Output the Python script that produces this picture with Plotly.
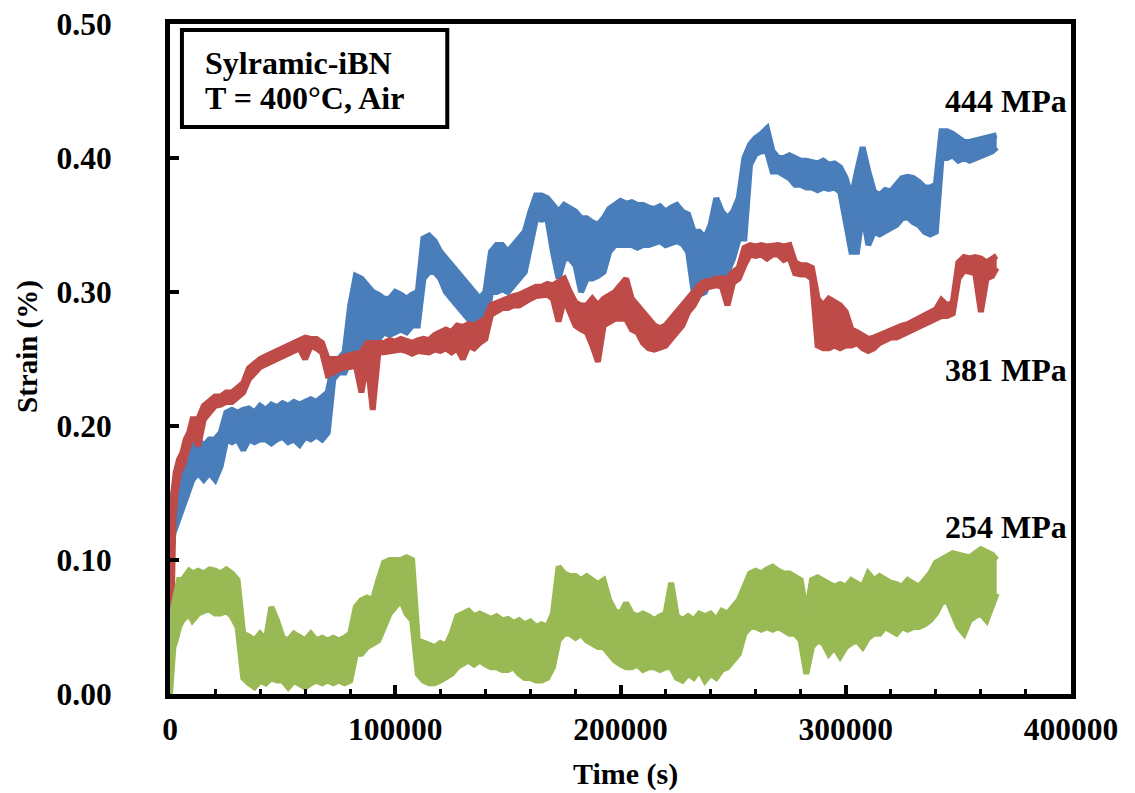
import plotly.graph_objects as go

# Time (s) sample points
time_s = [0, 300, 800, 1500, 2500, 4000, 5500, 7000, 8500, 10000,
          12500, 15000, 17500, 20000, 22500, 25000, 27500, 30000, 32500, 35000,
          37500, 40000, 42500, 45000, 47500, 50000, 52500, 55000, 57500, 60000,
          62500, 65000, 67500, 70000, 72500, 75000, 77500, 80000, 82500, 85000,
          87500, 90000, 92500, 95000, 97500, 100000, 102500, 105000, 107500, 110000,
          112500, 115000, 117500, 120000, 122500, 125000, 127500, 130000, 132500, 135000,
          137500, 140000, 142500, 145000, 147500, 150000, 152500, 155000, 157500, 160000,
          162500, 165000, 167500, 170000, 172500, 175000, 177500, 180000, 182500, 185000,
          187500, 190000, 192500, 195000, 197500, 200000, 202500, 205000, 207500, 210000,
          212500, 215000, 217500, 220000, 222500, 225000, 227500, 230000, 232500, 235000,
          237500, 240000, 242500, 245000, 247500, 250000, 252500, 255000, 257500, 260000,
          262500, 265000, 267500, 270000, 272500, 275000, 277500, 280000, 282500, 285000,
          287500, 290000, 292500, 295000, 297500, 300000, 302500, 305000, 307500, 310000,
          312500, 315000, 317500, 320000, 322500, 325000, 327500, 330000, 332500, 335000,
          337500, 340000, 342500, 345000, 347500, 350000, 352500, 355000, 357500, 360000,
          362500, 365000, 367000]

# Strain (%) at 444 MPa: upper and lower edge of the noisy trace
strain_444_hi = [0.07, 0.11, 0.135, 0.15, 0.16, 0.165, 0.17, 0.175, 0.18, 0.185,
                 0.19, 0.185, 0.19, 0.19, 0.195, 0.21, 0.212, 0.21, 0.212, 0.213,
                 0.21, 0.215, 0.212, 0.216, 0.214, 0.217, 0.215, 0.218, 0.216, 0.218,
                 0.22, 0.218, 0.222, 0.225, 0.245, 0.25, 0.255, 0.29, 0.312, 0.31,
                 0.305, 0.30, 0.298, 0.295, 0.295, 0.30, 0.298, 0.295, 0.298, 0.30,
                 0.34, 0.342, 0.338, 0.33, 0.325, 0.32, 0.315, 0.31, 0.305, 0.30,
                 0.295, 0.30, 0.33, 0.335, 0.335, 0.33, 0.335, 0.34, 0.345, 0.36,
                 0.372, 0.372, 0.37, 0.365, 0.36, 0.365, 0.362, 0.36, 0.355, 0.355,
                 0.352, 0.35, 0.355, 0.362, 0.365, 0.368, 0.366, 0.367, 0.365, 0.365,
                 0.363, 0.362, 0.364, 0.36, 0.363, 0.365, 0.36, 0.358, 0.345, 0.345,
                 0.34, 0.35, 0.37, 0.36, 0.355, 0.36, 0.37, 0.40, 0.41, 0.415,
                 0.418, 0.422, 0.405, 0.40, 0.40, 0.402, 0.40, 0.398, 0.398, 0.397,
                 0.396, 0.398, 0.395, 0.396, 0.393, 0.385, 0.37, 0.39, 0.408, 0.39,
                 0.375, 0.372, 0.376, 0.375, 0.38, 0.385, 0.386, 0.385, 0.382, 0.378,
                 0.378, 0.38, 0.42, 0.42, 0.418, 0.415, 0.412, 0.412, 0.413, 0.415,
                 0.416, 0.417, 0.417]
strain_444_lo = [0.05, 0.08, 0.11, 0.12, 0.125, 0.13, 0.14, 0.145, 0.155, 0.16,
                 0.165, 0.16, 0.165, 0.16, 0.17, 0.19, 0.188, 0.19, 0.182, 0.19,
                 0.188, 0.19, 0.19, 0.187, 0.19, 0.192, 0.188, 0.19, 0.186, 0.192,
                 0.19, 0.193, 0.19, 0.195, 0.235, 0.24, 0.24, 0.25, 0.26, 0.255,
                 0.26, 0.265, 0.265, 0.27, 0.268, 0.27, 0.272, 0.27, 0.275, 0.275,
                 0.31, 0.315, 0.315, 0.31, 0.30, 0.295, 0.29, 0.285, 0.28, 0.275,
                 0.272, 0.275, 0.30, 0.30, 0.302, 0.30, 0.305, 0.31, 0.315, 0.335,
                 0.355, 0.354, 0.355, 0.33, 0.31, 0.325, 0.325, 0.32, 0.30, 0.31,
                 0.31, 0.312, 0.315, 0.33, 0.335, 0.335, 0.335, 0.335, 0.333, 0.335,
                 0.335, 0.336, 0.338, 0.335, 0.336, 0.338, 0.336, 0.33, 0.30, 0.298,
                 0.30, 0.31, 0.31, 0.312, 0.315, 0.325, 0.34, 0.34, 0.395, 0.403,
                 0.405, 0.405, 0.39, 0.39, 0.388, 0.385, 0.38, 0.38, 0.378, 0.378,
                 0.376, 0.378, 0.377, 0.378, 0.375, 0.35, 0.33, 0.33, 0.36, 0.335,
                 0.345, 0.343, 0.345, 0.348, 0.35, 0.355, 0.356, 0.352, 0.35, 0.345,
                 0.343, 0.345, 0.40, 0.40, 0.402, 0.398, 0.40, 0.398, 0.40, 0.402,
                 0.403, 0.405, 0.408]

# Strain (%) at 381 MPa
strain_381_hi = [0.03, 0.08, 0.11, 0.15, 0.165, 0.175, 0.18, 0.19, 0.195, 0.205,
                 0.205, 0.215, 0.218, 0.222, 0.222, 0.225, 0.225, 0.228, 0.232, 0.243,
                 0.247, 0.25, 0.252, 0.254, 0.256, 0.258, 0.26, 0.262, 0.264, 0.266,
                 0.265, 0.265, 0.262, 0.25, 0.25, 0.25, 0.252, 0.253, 0.255, 0.255,
                 0.262, 0.262, 0.263, 0.262, 0.264, 0.263, 0.265, 0.263, 0.262, 0.264,
                 0.265, 0.264, 0.268, 0.27, 0.272, 0.27, 0.275, 0.274, 0.276, 0.275,
                 0.278, 0.28, 0.29, 0.292, 0.294, 0.295, 0.297, 0.298, 0.30, 0.302,
                 0.304, 0.304, 0.306, 0.305, 0.308, 0.31, 0.30, 0.292, 0.29, 0.29,
                 0.295, 0.29, 0.295, 0.298, 0.30, 0.305, 0.31, 0.295, 0.29, 0.285,
                 0.28, 0.275, 0.273, 0.275, 0.28, 0.285, 0.29, 0.295, 0.30, 0.305,
                 0.308, 0.308, 0.31, 0.31, 0.31, 0.315, 0.318, 0.333, 0.335, 0.334,
                 0.335, 0.334, 0.335, 0.335, 0.334, 0.335, 0.322, 0.32, 0.32, 0.318,
                 0.295, 0.29, 0.295, 0.292, 0.29, 0.285, 0.272, 0.27, 0.268, 0.265,
                 0.266, 0.268, 0.27, 0.272, 0.273, 0.275, 0.276, 0.278, 0.28, 0.282,
                 0.284, 0.287, 0.294, 0.29, 0.292, 0.322, 0.326, 0.325, 0.326, 0.325,
                 0.322, 0.325, 0.327]
strain_381_lo = [0.005, 0.04, 0.08, 0.13, 0.15, 0.165, 0.17, 0.178, 0.185, 0.195,
                 0.185, 0.205, 0.21, 0.215, 0.216, 0.218, 0.218, 0.222, 0.225, 0.235,
                 0.24, 0.244, 0.246, 0.248, 0.25, 0.252, 0.254, 0.256, 0.258, 0.25,
                 0.26, 0.258, 0.255, 0.238, 0.24, 0.242, 0.244, 0.244, 0.245, 0.225,
                 0.25, 0.212, 0.255, 0.255, 0.256, 0.256, 0.257, 0.256, 0.254, 0.256,
                 0.256, 0.255, 0.257, 0.256, 0.258, 0.255, 0.258, 0.25, 0.26, 0.258,
                 0.262, 0.265, 0.283, 0.286, 0.288, 0.288, 0.29, 0.29, 0.293, 0.295,
                 0.297, 0.297, 0.298, 0.295, 0.278, 0.295, 0.285, 0.275, 0.272, 0.27,
                 0.26, 0.248, 0.275, 0.278, 0.28, 0.28, 0.28, 0.272, 0.27, 0.262,
                 0.258, 0.257, 0.258, 0.26, 0.265, 0.27, 0.275, 0.285, 0.29, 0.298,
                 0.303, 0.304, 0.305, 0.304, 0.29, 0.307, 0.31, 0.32, 0.328, 0.327,
                 0.328, 0.325, 0.328, 0.328, 0.324, 0.326, 0.314, 0.313, 0.313, 0.31,
                 0.26, 0.258, 0.258, 0.26, 0.258, 0.26, 0.26, 0.262, 0.258, 0.256,
                 0.258, 0.262, 0.264, 0.266, 0.266, 0.268, 0.27, 0.272, 0.274, 0.276,
                 0.278, 0.28, 0.282, 0.282, 0.284, 0.31, 0.316, 0.315, 0.314, 0.285,
                 0.31, 0.312, 0.318]

# Strain (%) at 254 MPa
strain_254_hi = [0.02, 0.05, 0.058, 0.065, 0.075, 0.085, 0.085, 0.088, 0.092, 0.09,
                 0.092, 0.09, 0.093, 0.092, 0.09, 0.093, 0.09, 0.085, 0.045, 0.043,
                 0.04, 0.045, 0.04, 0.065, 0.055, 0.042, 0.04, 0.045, 0.042, 0.04,
                 0.045, 0.04, 0.042, 0.04, 0.042, 0.04, 0.042, 0.045, 0.065, 0.07,
                 0.072, 0.07, 0.085, 0.098, 0.10, 0.10, 0.10, 0.102, 0.10, 0.04,
                 0.038, 0.036, 0.035, 0.038, 0.036, 0.045, 0.058, 0.06, 0.062, 0.058,
                 0.06, 0.058, 0.056, 0.058, 0.055, 0.056, 0.053, 0.055, 0.052, 0.054,
                 0.05, 0.052, 0.05, 0.06, 0.095, 0.09, 0.088, 0.088, 0.085, 0.088,
                 0.085, 0.082, 0.085, 0.07, 0.062, 0.06, 0.068, 0.06, 0.058, 0.06,
                 0.058, 0.055, 0.058, 0.06, 0.083, 0.058, 0.055, 0.058, 0.055, 0.06,
                 0.058, 0.06, 0.055, 0.062, 0.06, 0.065, 0.07, 0.08, 0.09, 0.092,
                 0.09, 0.093, 0.095, 0.092, 0.09, 0.09, 0.088, 0.085, 0.06, 0.085,
                 0.087, 0.085, 0.083, 0.08, 0.082, 0.08, 0.085, 0.083, 0.08, 0.09,
                 0.085, 0.088, 0.085, 0.083, 0.082, 0.08, 0.085, 0.083, 0.08, 0.085,
                 0.09, 0.098, 0.10, 0.103, 0.105, 0.104, 0.103, 0.102, 0.105, 0.108,
                 0.106, 0.104, 0.10]
strain_254_lo = [0.0, 0.005, 0.02, 0.035, 0.04, 0.05, 0.055, 0.058, 0.06, 0.055,
                 0.06, 0.062, 0.063, 0.06, 0.06, 0.062, 0.058, 0.05, 0.012, 0.008,
                 0.005, 0.01, 0.008, 0.012, 0.01, 0.01, 0.005, 0.01, 0.008, 0.005,
                 0.008, 0.01, 0.008, 0.01, 0.008, 0.01, 0.008, 0.01, 0.03, 0.03,
                 0.035, 0.038, 0.04, 0.05, 0.06, 0.065, 0.07, 0.06, 0.055, 0.015,
                 0.01, 0.008, 0.008, 0.01, 0.012, 0.015, 0.02, 0.022, 0.025, 0.022,
                 0.025, 0.022, 0.02, 0.02, 0.018, 0.018, 0.02, 0.015, 0.012, 0.012,
                 0.01, 0.01, 0.012, 0.02, 0.04, 0.045, 0.045, 0.042, 0.045, 0.04,
                 0.038, 0.035, 0.035, 0.03, 0.025, 0.022, 0.02, 0.02, 0.022, 0.018,
                 0.02, 0.02, 0.018, 0.02, 0.02, 0.012, 0.01, 0.015, 0.012, 0.018,
                 0.01, 0.015, 0.012, 0.018, 0.02, 0.025, 0.03, 0.045, 0.05, 0.05,
                 0.048, 0.05, 0.048, 0.05, 0.048, 0.045, 0.045, 0.04, 0.015, 0.035,
                 0.04, 0.038, 0.03, 0.035, 0.028, 0.035, 0.038, 0.04, 0.035, 0.042,
                 0.045, 0.045, 0.05, 0.048, 0.045, 0.05, 0.048, 0.05, 0.05, 0.052,
                 0.055, 0.06, 0.068, 0.07, 0.06, 0.05, 0.045, 0.055, 0.058, 0.06,
                 0.055, 0.065, 0.075]

series_names = ["444 MPa", "381 MPa", "254 MPa"]
series_colors = ["#4A7EBB", "#BE4B48", "#98B954"]
series_hi = [strain_444_hi, strain_381_hi, strain_254_hi]
series_lo = [strain_444_lo, strain_381_lo, strain_254_lo]
label_y = [0.4425, 0.2418, 0.1246]

FONT = "Liberation Serif"
W, H = 1127, 785          # page body has an 8 px margin
L, R, T, B = 162, 64, 16, 99
PW, PH = W - L - R, H - T - B


def px_to_paper(x, y):
    return (x - 8 - L) / PW, (H - B - (y - 8)) / PH


fig = go.Figure()
for name, color, hi, lo in zip(series_names, series_colors, series_hi, series_lo):
    fig.add_trace(go.Scatter(x=time_s, y=lo, mode="lines", name=name,
                             line=dict(color=color, width=6), showlegend=False))
    fig.add_trace(go.Scatter(x=time_s, y=hi, mode="lines", name=name,
                             line=dict(color=color, width=6), fill="tonexty",
                             fillcolor=color, showlegend=False))

for name, yv in zip(series_names, label_y):
    fig.add_annotation(x=371000, y=yv, xref="x", yref="y", text=name, showarrow=False,
                       xanchor="center", yanchor="middle",
                       font=dict(family=FONT, size=32, color="black", weight="bold"))

# Info box
fig.add_shape(type="rect", xref="x", yref="y", x0=5300, x1=123100, y0=0.4231, y1=0.4955,
              line=dict(color="black", width=4), fillcolor="white", layer="above")
fig.add_annotation(x=14600, y=0.471, xref="x", yref="y", text="Sylramic-iBN", showarrow=False,
                   xanchor="left", yanchor="middle",
                   font=dict(family=FONT, size=32, color="black", weight="bold"))
fig.add_annotation(x=14600, y=0.445, xref="x", yref="y", text="T = 400°C, Air", showarrow=False,
                   xanchor="left", yanchor="middle",
                   font=dict(family=FONT, size=32, color="black", weight="bold"))

# Axis titles
ax, ay = px_to_paper(27, 347)
fig.add_annotation(x=ax, y=ay, xref="paper", yref="paper", text="Strain (%)", showarrow=False,
                   textangle=-90, xanchor="center", yanchor="middle",
                   font=dict(family=FONT, size=29, color="black", weight="bold"))
ax, ay = px_to_paper(625, 774)
fig.add_annotation(x=ax, y=ay, xref="paper", yref="paper", text="Time (s)", showarrow=False,
                   xanchor="center", yanchor="middle",
                   font=dict(family=FONT, size=30, color="black", weight="bold"))

fig.update_xaxes(range=[0, 400000], dtick=100000, tickformat="d", automargin=False,
                 showline=True, linecolor="black", linewidth=5, mirror=True,
                 ticks="inside", ticklen=9, tickwidth=4, tickcolor="black",
                 minor=dict(dtick=20000, ticks="inside", ticklen=5, tickwidth=3, tickcolor="black"),
                 showgrid=False, zeroline=False, ticklabelstandoff=3, ticklabeloverflow="allow",
                 tickfont=dict(family=FONT, size=31.5, color="black", weight="bold"))
fig.update_yaxes(range=[0, 0.5], dtick=0.1, tickformat=".2f", automargin=False,
                 showline=True, linecolor="black", linewidth=5, mirror=True,
                 ticks="inside", ticklen=9, tickwidth=4, tickcolor="black",
                 showgrid=False, zeroline=False, ticklabelstandoff=47, ticklabeloverflow="allow",
                 tickfont=dict(family=FONT, size=31.5, color="black", weight="bold"))

fig.update_layout(width=W, height=H, margin=dict(l=L, r=R, t=T, b=B, autoexpand=False),
                  plot_bgcolor="white", paper_bgcolor="white")

fig.write_html("out.html")
